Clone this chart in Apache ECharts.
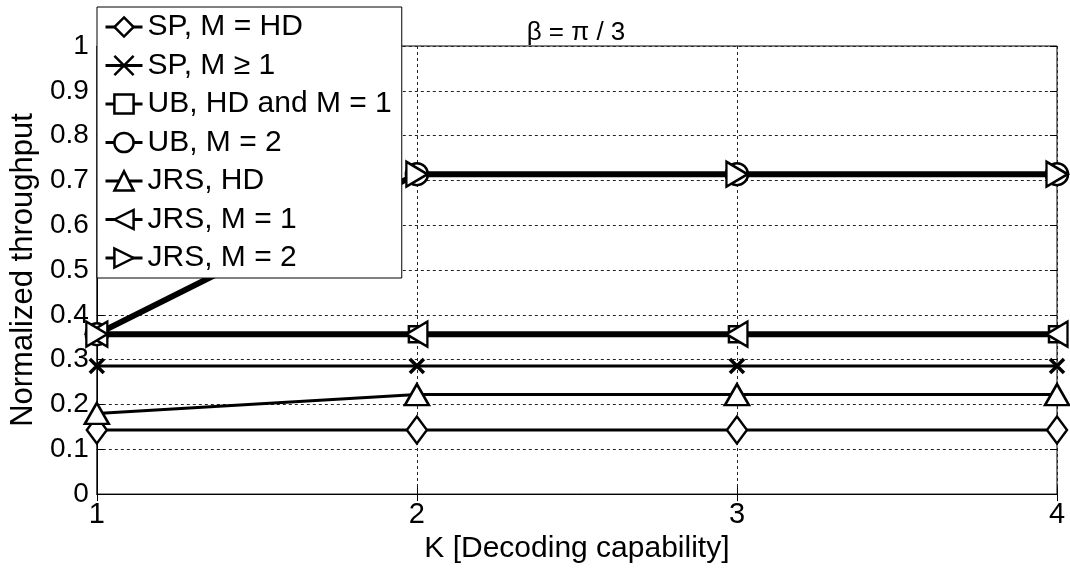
<!DOCTYPE html>
<html>
  <head>
    <meta charset="UTF-8">
    <title>Normalized throughput</title>
    <script src="https://cdn.jsdelivr.net/npm/echarts@6/dist/echarts.min.js"></script>
  </head>
  <body style="margin:0;background:#fff">
    <div id="box" style="width:1070px;height:569px"></div>
    <script>
        // K values and the seven curves
        var kValues   = [1, 2, 3, 4];
        var spHD      = [0.143, 0.143, 0.143, 0.143];
        var spM1      = [0.286, 0.286, 0.286, 0.286];
        var ubHDM1    = [0.357, 0.357, 0.357, 0.357];
        var ubM2      = [0.357, 0.714, 0.714, 0.714];
        var jrsHD     = [0.180, 0.222, 0.222, 0.222];
        var jrsM1     = [0.357, 0.357, 0.357, 0.357];
        var jrsM2     = [0.357, 0.714, 0.714, 0.714];
        var names = ['SP, M = HD', 'SP, M \u2265 1', 'UB, HD and M = 1', 'UB, M = 2',
                     'JRS, HD', 'JRS, M = 1', 'JRS, M = 2'];

        function pts(vals) {
            return kValues.map(function (k, i) { return [k, vals[i]]; });
        }
        function line(name, vals, symbol, size, width, rotate, border) {
            return {
                name: name,
                type: 'line',
                data: pts(vals),
                symbol: symbol,
                symbolSize: size,
                symbolRotate: rotate || 0,
                showAllSymbol: true,
                clip: false,
                lineStyle: {color: '#000', width: width},
                itemStyle: {color: '#fff', borderColor: '#000', borderWidth: border || 2.5},
                emphasis: {disabled: true}
            };
        }
        var cross = 'path://M0,0L10,10M10,0L0,10';
        var font = "'Liberation Sans', Arial, sans-serif";

        var myChart = echarts.init(document.getElementById('box'));
        myChart.setOption({
            animation: false,
            title: {
                text: '\u03b2 = \u03c0 / 3',
                left: 571, top: 15, textAlign: 'center',
                textStyle: {fontFamily: font, fontSize: 26, fontWeight: 'normal', color: '#000'}
            },
            grid: {left: 93, right: 13, top: 46, bottom: 72, show: true,
                   borderColor: '#000', borderWidth: 1, backgroundColor: '#fff'},
            legend: {
                data: names,
                orient: 'vertical',
                left: 97, top: 7,
                padding: [5, 10, 5, 7],
                itemWidth: 37, itemHeight: 24, itemGap: 8.5,
                backgroundColor: '#fff',
                borderColor: '#000', borderWidth: 1,
                textStyle: {fontFamily: font, fontSize: 30, color: '#000'},
                lineStyle: {width: 3},
                itemStyle: {borderWidth: 2.5},
                selectedMode: false
            },
            xAxis: [{
                type: 'value', min: 1, max: 4, interval: 1,
                name: 'K [Decoding capability]', nameLocation: 'middle', nameGap: 38,
                nameTextStyle: {fontFamily: font, fontSize: 30, color: '#000'},
                axisLine: {lineStyle: {color: '#000', width: 1}},
                axisTick: {inside: true, length: 7, lineStyle: {color: '#000'}},
                axisLabel: {fontFamily: font, fontSize: 29, color: '#000', margin: 6},
                splitLine: {show: true, lineStyle: {color: '#222', type: [3, 3], width: 1}}
            }, {
                type: 'value', min: 1, max: 4, interval: 1, position: 'top',
                axisLine: {show: false},
                axisTick: {inside: true, length: 7, lineStyle: {color: '#000'}},
                axisLabel: {show: false}, splitLine: {show: false}
            }],
            yAxis: [{
                type: 'value', min: 0, max: 1, interval: 0.1,
                name: 'Normalized throughput', nameLocation: 'middle', nameGap: 56,
                nameTextStyle: {fontFamily: font, fontSize: 31, color: '#000'},
                axisLine: {show: true, lineStyle: {color: '#000', width: 1}},
                axisTick: {show: true, inside: true, length: 7, lineStyle: {color: '#000'}},
                axisLabel: {fontFamily: font, fontSize: 28, color: '#000', margin: 8},
                splitLine: {show: true, lineStyle: {color: '#222', type: [3, 3], width: 1}}
            }, {
                type: 'value', min: 0, max: 1, interval: 0.1, position: 'right',
                axisLine: {show: false},
                axisTick: {show: true, inside: true, length: 7, lineStyle: {color: '#000'}},
                axisLabel: {show: false}, splitLine: {show: false}
            }],
            series: [
                line(names[0], spHD, 'diamond', [20, 27], 3),
                line(names[1], spM1, cross, 14, 3, 0, 3.5),
                line(names[2], ubHDM1, 'rect', 16, 6),
                line(names[3], ubM2, 'circle', 22, 6),
                line(names[4], jrsHD, 'triangle', [24, 21], 3),
                line(names[5], jrsM1, 'triangle', [25, 21], 3, 90),
                line(names[6], jrsM2, 'triangle', [25, 21], 3, -90)
            ]
        });
    </script>
  </body>
</html>
